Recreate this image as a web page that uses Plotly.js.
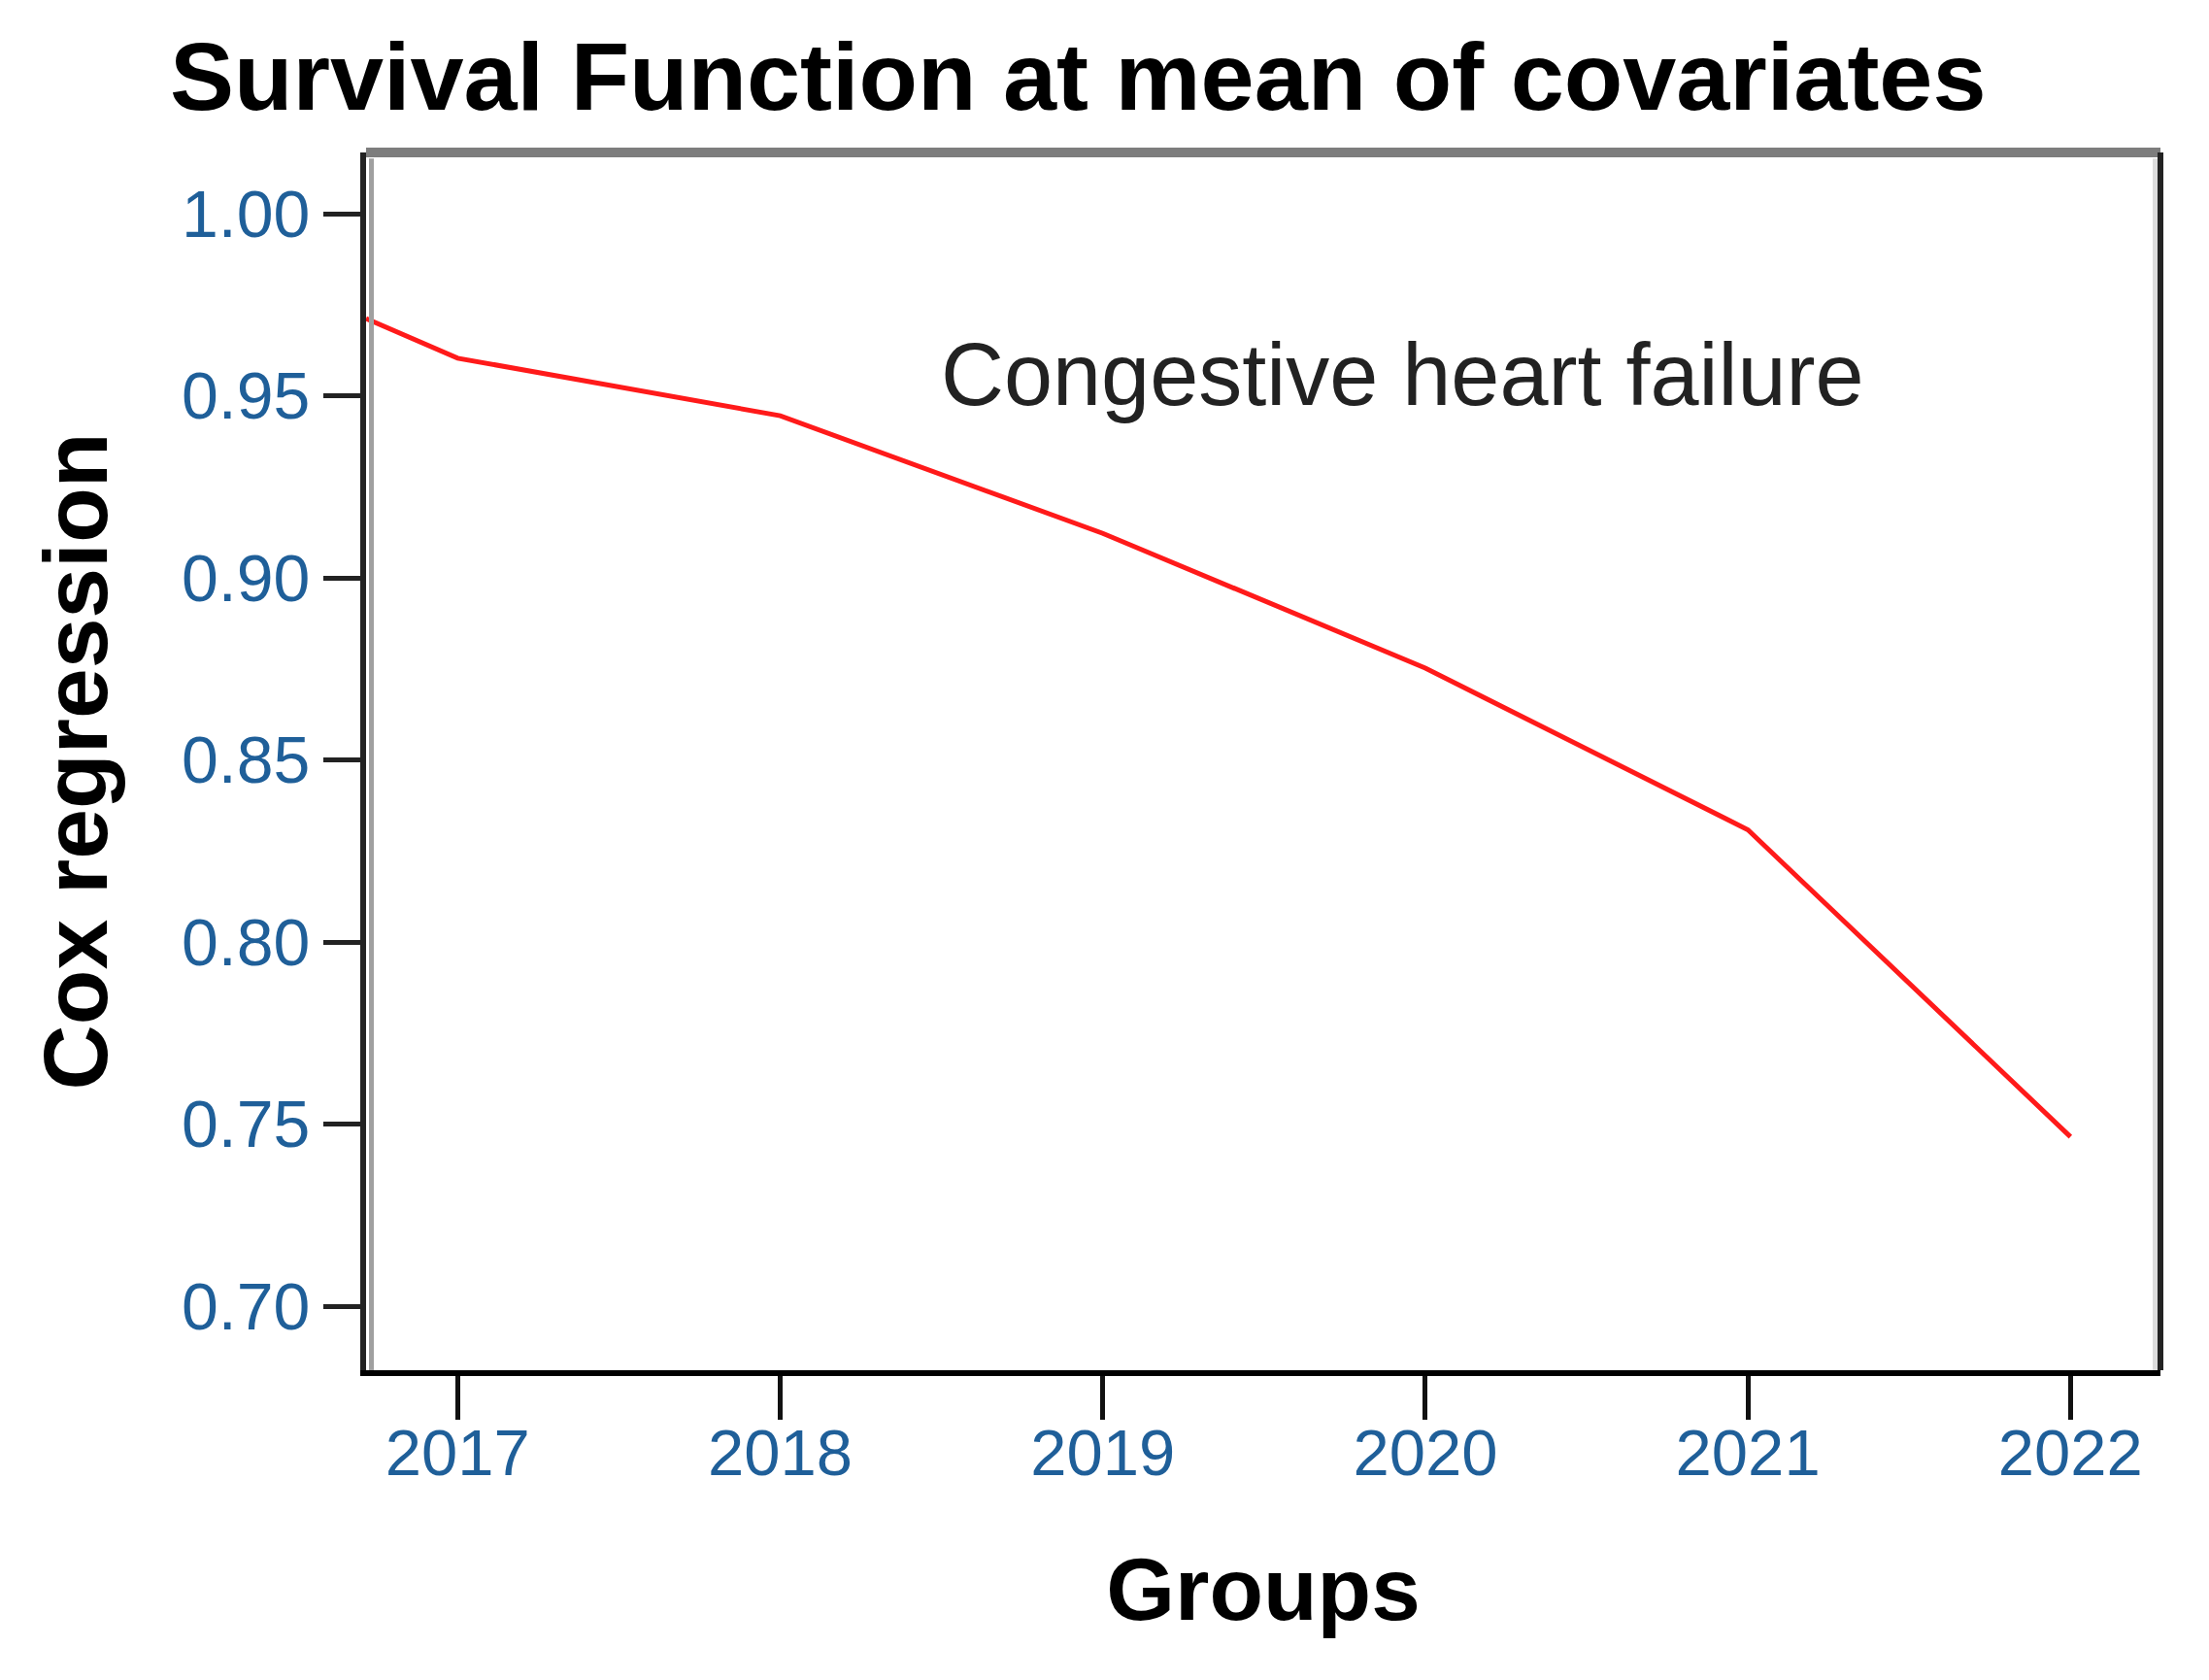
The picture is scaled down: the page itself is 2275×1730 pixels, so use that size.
<!DOCTYPE html>
<html>
<head>
<meta charset="utf-8">
<script src="https://cdn.plot.ly/plotly-3.0.1.min.js"></script>
<style>
  html, body { margin: 0; padding: 0; background: #ffffff; }
  #chart { width: 2275px; height: 1730px; }
</style>
</head>
<body>
<div id="chart"></div>
<script>
// ---- data ----
const groupPositions = [2016.716, 2017, 2018, 2019, 2020, 2021, 2022];
const survivalValues = [0.9712, 0.9603, 0.9445, 0.9122, 0.8752, 0.8308, 0.7465];
const xTickValues = [2017, 2018, 2019, 2020, 2021, 2022];
const xTickLabels = ['2017', '2018', '2019', '2020', '2021', '2022'];
const yTickValues = [0.70, 0.75, 0.80, 0.85, 0.90, 0.95, 1.00];
const yTickLabels = ['0.70', '0.75', '0.80', '0.85', '0.90', '0.95', '1.00'];
const seriesName = 'Congestive heart failure';
const chartTitle = 'Survival Function at mean of covariates';
const xTitle = 'Groups';
const yTitle = 'Cox regression';

const FONT = '"Liberation Sans", Arial, "DejaVu Sans", sans-serif';
const tickColor = '#1f5f99';

const trace = {
  x: groupPositions,
  y: survivalValues,
  type: 'scatter',
  mode: 'lines',
  name: seriesName,
  line: { color: '#ff1a1a', width: 5 },
  hoverinfo: 'x+y',
  showlegend: false
};

const layout = {
  width: 2275,
  height: 1730,
  paper_bgcolor: '#ffffff',
  plot_bgcolor: '#ffffff',
  margin: { l: 377, r: 50, t: 157, b: 319, pad: 0 },
  font: { family: FONT, color: '#000000' },
  title: {
    text: '<b>' + chartTitle + '</b>',
    font: { family: FONT, size: 99, color: '#000000' },
    x: 0.488, xref: 'container', xanchor: 'center',
    y: 1 - 78 / 1730, yref: 'container', yanchor: 'middle'
  },
  xaxis: {
    range: [2016.716, 2022.279],
    tickvals: xTickValues,
    ticktext: xTickLabels,
    ticks: 'outside',
    ticklen: 45,
    tickwidth: 5,
    tickcolor: '#111111',
    ticklabelstandoff: -23,
    tickfont: { family: FONT, size: 67, color: tickColor },
    showline: true,
    linecolor: '#000000',
    linewidth: 6,
    showgrid: false,
    zeroline: false,
    title: {
      text: '<b>' + xTitle + '</b>',
      font: { family: FONT, size: 91, color: '#000000' },
      standoff: 74
    }
  },
  yaxis: {
    range: [0.6824, 1.0168],
    tickvals: yTickValues,
    ticktext: yTickLabels,
    ticks: 'outside',
    ticklen: 38,
    tickwidth: 5,
    tickcolor: '#222222',
    tickfont: { family: FONT, size: 68, color: tickColor },
    showline: true,
    linecolor: '#222222',
    linewidth: 6,
    showgrid: false,
    zeroline: false,
    title: {
      text: '<b>' + yTitle + '</b>',
      font: { family: FONT, size: 93, color: '#000000' },
      standoff: 47
    }
  },
  shapes: [
    { type: 'line', xref: 'paper', yref: 'paper', x0: 0, x1: 1, y0: 1, y1: 1,
      line: { color: '#7d7d7d', width: 10 } },
    { type: 'line', xref: 'paper', yref: 'paper', x0: 1, x1: 1, y0: 0, y1: 1,
      line: { color: '#222222', width: 6 } },
    { type: 'line', xref: 'paper', yref: 'paper', xsizemode: 'pixel', xanchor: 0,
      x0: 5.5, x1: 5.5, y0: 0, y1: 0.995, line: { color: '#a0a0a0', width: 5 } },
    { type: 'line', xref: 'paper', yref: 'paper', xsizemode: 'pixel', xanchor: 1,
      x0: -5.5, x1: -5.5, y0: 0, y1: 0.995, line: { color: '#dcdcdc', width: 5 } }
  ],
  annotations: [
    {
      text: seriesName,
      x: 2019.93, xref: 'x',
      y: 0.9557, yref: 'y',
      xanchor: 'center', yanchor: 'middle',
      showarrow: false,
      font: { family: FONT, size: 90, color: '#222222' }
    }
  ]
};

Plotly.newPlot('chart', [trace], layout, { staticPlot: true, displayModeBar: false });
</script>
</body>
</html>
